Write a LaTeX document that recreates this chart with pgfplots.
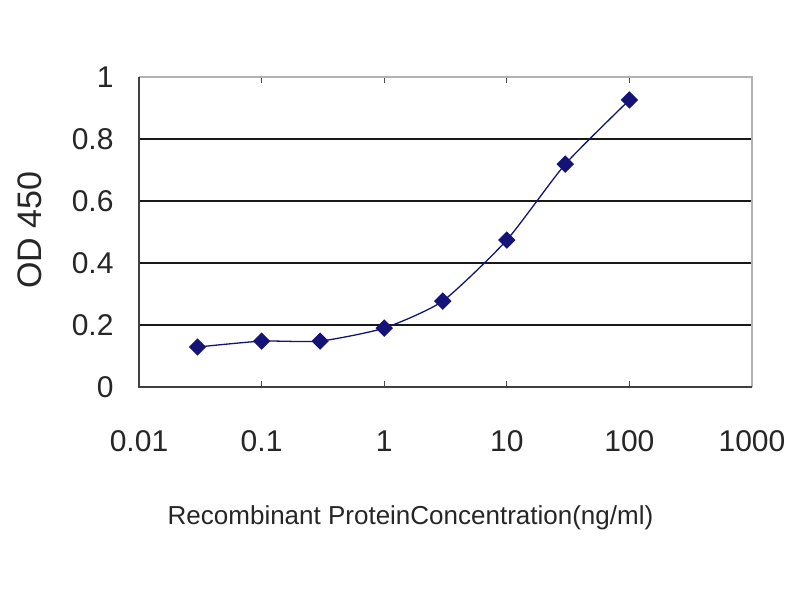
\documentclass[border=0pt]{standalone}
\usepackage{pgfplots}
\pgfplotsset{compat=1.18}
\usepackage{fontspec}
\setmainfont{Liberation Sans}
\definecolor{navy}{RGB}{20,20,120}
\begin{document}
\begin{tikzpicture}
\useasboundingbox[fill=white] (-139pt,-213pt) rectangle (661pt,387pt);
\begin{axis}[
  at={(0,0)}, anchor=south west,
  scale only axis, width=613pt, height=310pt,
  xmode=log, xmin=0.01, xmax=1000,
  ymin=0, ymax=1,
  log basis x=10,
  xtick={0.01,0.1,1,10,100,1000},
  xticklabels={0.01,0.1,1,10,100,1000},
  ytick={0,0.2,0.4,0.6,0.8,1},
  yticklabels={0,0.2,0.4,0.6,0.8,1},
  minor xtick={},
  ymajorgrids, grid style={black!90, line width=1.8pt},
  axis line style={draw=none},
  xtick style={draw=black!70, line width=1.2pt},
  ytick style={draw=none},
  tick align=inside, major tick length=6pt,
  xticklabel style={font=\fontsize{30}{32}\selectfont, text=black!85, anchor=north, yshift=-40pt},
  yticklabel style={font=\fontsize{30}{32}\selectfont, text=black!85, anchor=east, xshift=-22pt},
  xlabel={Recombinant ProteinConcentration(ng/ml)},
  xlabel style={font=\fontsize{26}{28}\selectfont, text=black!85, at={(axis description cs:0.5,0)}, anchor=center, xshift=-35pt, yshift=-131pt},
  ylabel={OD 450},
  ylabel style={font=\fontsize{34}{36}\selectfont, text=black!85, at={(axis description cs:0,0.5)}, anchor=center, rotate=0, yshift=109pt, xshift=2pt},
  clip=false,
]
\draw[black!30, line width=1.8pt] (rel axis cs:0,1) -- (rel axis cs:1,1) -- (rel axis cs:1,0);
\draw[black!75, line width=1.8pt] (rel axis cs:0,1) -- (rel axis cs:0,0) -- (rel axis cs:1,0);
\addplot[navy, line width=1.3pt, smooth, tension=0.35, mark=square*, mark size=5.5pt, mark options={fill=navy, draw=navy, rotate=45}]
coordinates {
(0.03,0.129) (0.1,0.148) (0.3,0.148) (1,0.19) (3,0.277) (10,0.474) (30,0.719) (100,0.926)
};
\end{axis}
\end{tikzpicture}
\end{document}
